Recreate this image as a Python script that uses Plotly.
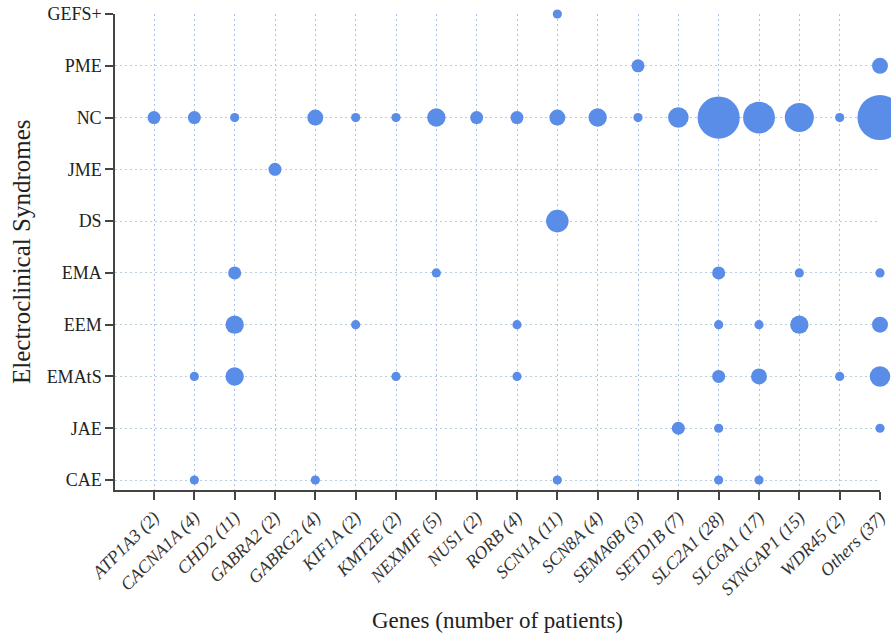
import plotly.graph_objects as go

genes = ["ATP1A3", "CACNA1A", "CHD2", "GABRA2", "GABRG2", "KIF1A", "KMT2E",
         "NEXMIF", "NUS1", "RORB", "SCN1A", "SCN8A", "SEMA6B", "SETD1B",
         "SLC2A1", "SLC6A1", "SYNGAP1", "WDR45", "Others"]
gene_labels = ["ATP1A3 (2)", "CACNA1A (4)", "CHD2 (11)", "GABRA2 (2)", "GABRG2 (4)",
               "KIF1A (2)", "KMT2E (2)", "NEXMIF (5)", "NUS1 (2)", "RORB (4)",
               "SCN1A (11)", "SCN8A (4)", "SEMA6B (3)", "SETD1B (7)", "SLC2A1 (28)",
               "SLC6A1 (17)", "SYNGAP1 (15)", "WDR45 (2)", "Others (37)"]
syndromes = ["CAE", "JAE", "EMAtS", "EEM", "EMA", "DS", "JME", "NC", "PME", "GEFS+"]

# counts per syndrome (gene -> number of patients)
counts = {
    "GEFS+": {"SCN1A": 1},
    "PME": {"SEMA6B": 2, "Others": 3},
    "NC": {"ATP1A3": 2, "CACNA1A": 2, "CHD2": 1, "GABRG2": 3, "KIF1A": 1, "KMT2E": 1,
           "NEXMIF": 4, "NUS1": 2, "RORB": 2, "SCN1A": 3, "SCN8A": 4, "SEMA6B": 1,
           "SETD1B": 5, "SLC2A1": 21, "SLC6A1": 12, "SYNGAP1": 10, "WDR45": 1, "Others": 24},
    "JME": {"GABRA2": 2},
    "DS": {"SCN1A": 6},
    "EMA": {"CHD2": 2, "NEXMIF": 1, "SLC2A1": 2, "SYNGAP1": 1, "Others": 1},
    "EEM": {"CHD2": 4, "KIF1A": 1, "RORB": 1, "SLC2A1": 1, "SLC6A1": 1, "SYNGAP1": 4, "Others": 3},
    "EMAtS": {"CACNA1A": 1, "CHD2": 4, "KMT2E": 1, "RORB": 1, "SLC2A1": 2, "SLC6A1": 3,
              "WDR45": 1, "Others": 5},
    "JAE": {"SETD1B": 2, "SLC2A1": 1, "Others": 1},
    "CAE": {"CACNA1A": 1, "GABRG2": 1, "SCN1A": 1, "SLC2A1": 1, "SLC6A1": 1},
}

xs, ys, ss = [], [], []
for syn in syndromes:
    for g in genes:
        v = counts.get(syn, {}).get(g, 0)
        if v > 0:
            xs.append(genes.index(g))
            ys.append(syndromes.index(syn))
            ss.append(v)

fig = go.Figure()
fig.add_trace(go.Scatter(
    x=xs, y=ys, mode="markers",
    marker=dict(size=ss, sizemode="area", sizeref=2 / (9.2 ** 2),
                color="#5a8de8", opacity=1, line=dict(width=0)),
    cliponaxis=False, hoverinfo="skip", showlegend=False,
))

serif = "Liberation Serif, Times New Roman, serif"
fig.update_layout(
    width=891, height=637,
    margin=dict(l=115, r=11, t=14, b=147, autoexpand=False),
    paper_bgcolor="white", plot_bgcolor="white",
    font=dict(family=serif, color="#222"),
    xaxis=dict(
        range=[-0.967, 18], tickmode="array", tickvals=list(range(len(genes))),
        ticktext=gene_labels, tickangle=-45, automargin=False,
        tickfont=dict(family=serif, size=18, style="italic", color="#333"),
        showline=True, linecolor="#444", linewidth=1.5,
        ticks="outside", ticklen=8, tickwidth=1.5, tickcolor="#444",
        showgrid=True, gridcolor="#a9c3ee", griddash="2px,3px", gridwidth=1,
        zeroline=False,
    ),
    yaxis=dict(
        range=[-0.193, 9], tickmode="array", tickvals=list(range(len(syndromes))),
        ticktext=syndromes, automargin=False,
        tickfont=dict(family=serif, size=18, color="#222"),
        showline=True, linecolor="#444", linewidth=1.5,
        ticks="outside", ticklen=8, tickwidth=1.5, tickcolor="#444",
        showgrid=True, gridcolor="#b8cedb", griddash="2px,3px", gridwidth=1,
        zeroline=False,
    ),
    annotations=[
        dict(text="Genes (number of patients)", xref="paper", yref="paper",
             x=0.5, y=-(620 - 490) / 476, xanchor="center", yanchor="middle",
             showarrow=False, font=dict(family=serif, size=23, color="#222")),
        dict(text="Electroclinical Syndromes", xref="paper", yref="paper",
             x=-(115 - 21) / 765, y=0.5, xanchor="center", yanchor="middle",
             textangle=-90, showarrow=False, font=dict(family=serif, size=25, color="#222")),
    ],
)

fig.write_html("out.html", config={"displayModeBar": False},
               post_script="document.body.style.margin='0';document.body.style.overflow='hidden';")
